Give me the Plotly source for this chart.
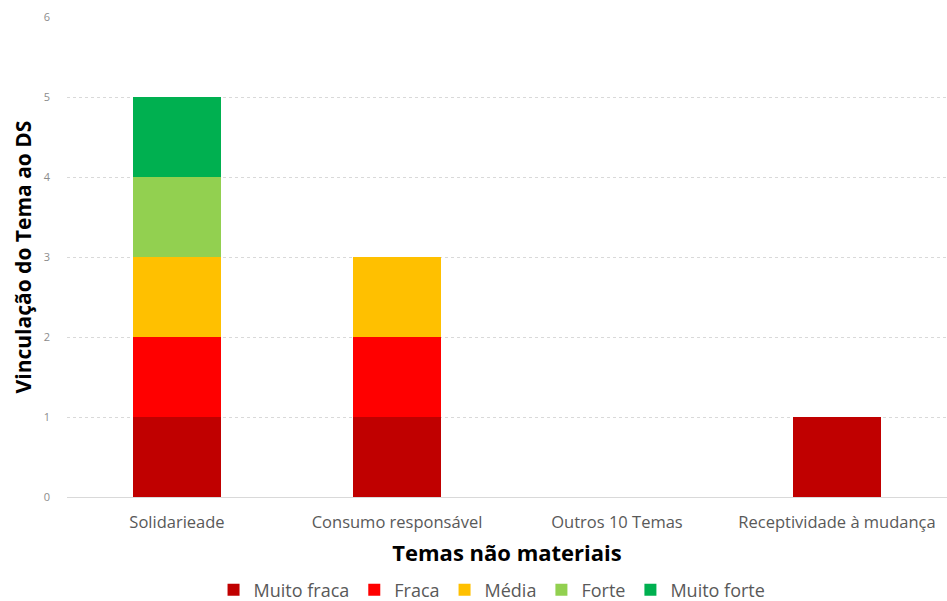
import plotly.graph_objects as go

categories = ["Solidarieade", "Consumo responsável", "Outros 10 Temas", "Receptividade à mudança"]
series_names = ["Muito fraca", "Fraca", "Média", "Forte", "Muito forte"]
muito_fraca = [1, 1, 0, 1]
fraca = [1, 1, 0, 0]
media = [1, 1, 0, 0]
forte = [1, 0, 0, 0]
muito_forte = [1, 0, 0, 0]
colors = ["#C00000", "#FF0000", "#FFC000", "#92D050", "#00B050"]
y_ticks = [0, 1, 2, 3, 4, 5, 6]

values = [muito_fraca, fraca, media, forte, muito_forte]

fig = go.Figure()
for name, vals, col in zip(series_names, values, colors):
    fig.add_trace(go.Bar(x=categories, y=vals, name=name, marker=dict(color=col, line=dict(width=0))))

fig.update_layout(
    barmode="stack",
    bargap=0.6,
    width=947, height=601,
    margin=dict(l=67, r=0, t=17, b=104, autoexpand=False),
    paper_bgcolor="white", plot_bgcolor="white",
    font=dict(family="Open Sans", color="#595959"),
    showlegend=True,
    legend=dict(orientation="h", x=0.483, xanchor="center", y=-0.194, yanchor="middle",
                font=dict(size=18, color="#595959"), traceorder="normal", itemwidth=30),
    xaxis=dict(
        title=dict(text="<b>Temas não materiais</b>", font=dict(size=22, color="#000000"), standoff=14),
        tickfont=dict(size=16.5, color="#595959"),
        showgrid=False, showline=False, ticks="", ticklabelstandoff=13, automargin=False,
    ),
    yaxis=dict(
        title=dict(text="<b>Vinculação do Tema ao DS</b>", font=dict(size=21, color="#000000"), standoff=6),
        range=[0, 6], tickvals=y_ticks,
        tickfont=dict(size=11, color="#8c8c8c"),
        showgrid=True, gridcolor="#d9d9d9", griddash="dot", gridwidth=1,
        zeroline=True, zerolinecolor="#d9d9d9", zerolinewidth=1,
        ticks="", ticklabelstandoff=16, automargin=False,
    ),
)
fig.write_html("out.html", config={"displayModeBar": False},
               post_script="document.body.style.margin='0';document.body.style.padding='0';")
